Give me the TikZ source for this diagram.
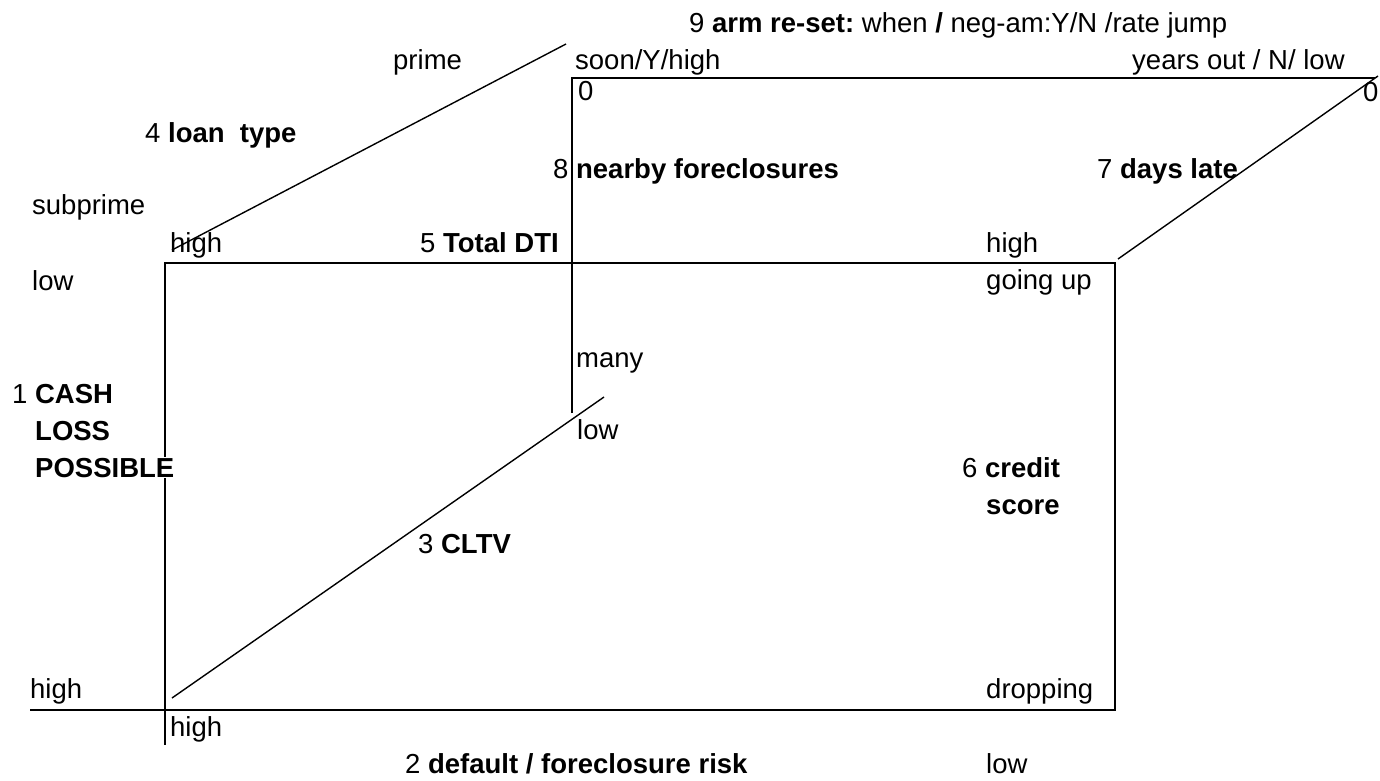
\documentclass[tikz,border=0pt]{standalone}
\usepackage{fontspec}
\setmainfont{Liberation Sans}
\usetikzlibrary{positioning}
\frenchspacing

\begin{document}
\begin{tikzpicture}[
  x=1pt, y=-1pt,
  axline/.style={line width=2.6pt},
  slant/.style={line width=1.4pt},
  lbl/.style={anchor=base west, inner sep=0pt, font=\fontsize{27.5}{33}\selectfont}
]
\useasboundingbox (0,0) rectangle (1380,780);

% ---- corners of the frame ----
\coordinate (axL) at (30,710);
\coordinate (axB) at (165,745);
\coordinate (TL) at (165,263);
\coordinate (TR) at (1115,263);
\coordinate (BR) at (1115,710);
\coordinate (dtiTop) at (572,78);
\coordinate (dtiBot) at (572,413);
\coordinate (backR) at (1375,78);
\coordinate (loanA) at (172,250);
\coordinate (loanB) at (566,44);
\coordinate (lateA) at (1118,259);
\coordinate (lateB) at (1378,76);
\coordinate (cltvA) at (172,698);
\coordinate (cltvB) at (604,397);

\draw[axline] (axL) -- (BR) -- (TR) -- (TL) -- (axB);
\draw[axline] (dtiBot) -- (dtiTop) -- (backR);
\draw[slant] (loanA) -- (loanB);
\draw[slant] (lateA) -- (lateB);
\draw[slant] (cltvA) -- (cltvB);

% ---- top row ----
\node[lbl] (arm) at (689,32) {9 \textbf{arm re-set:} when \textbf{/} neg-am:Y/N /rate jump};
\node[lbl] (prime) at (393,69) {prime};
\node[lbl] (soon) at (575,69) {soon/Y/high};
\node[lbl] (years) at (1132,69) {years out / N/ low};
\node[lbl] (zeroL) at (578,100) {0};
\node[lbl] (zeroR) at (1363,101) {0};

% ---- back labels ----
\node[lbl] (loan) at (145,142) {4 \textbf{loan\ \ type}};
\node[lbl] (near) at (553,178) {8 \textbf{nearby foreclosures}};
\node[lbl] (late) at (1097,178) {7 \textbf{days late}};
\node[lbl] (subprime) at (32,214) {subprime};
\node[lbl] (dtiHigh) at (170,252) {high};
\node[lbl] (dti) at (420,252) {5 \textbf{Total DTI}};
\node[lbl] (scoreHigh) at (986,252) {high};
\node[lbl] (loanLow) at (32,290) {low};
\node[lbl] (goingUp) at (986,289) {going up};
\node[lbl] (many) at (576,367) {many};

% ---- cash loss ----
\node[lbl] (cash) at (12,403) {1 \textbf{CASH}};
\node[lbl] (loss) at (35,440) {\textbf{LOSS}};
\node[lbl, fill=white, inner xsep=1pt, inner ysep=1pt] (possible) at (34,477) {\textbf{POSSIBLE}};
\node[lbl] (nearLow) at (577,439) {low};
\node[lbl] (credit) at (962,477) {6 \textbf{credit}};
\node[lbl] (score) at (986,514) {\textbf{score}};
\node[lbl] (cltv) at (418,553) {3 \textbf{CLTV}};

% ---- bottom row ----
\node[lbl] (cashHigh) at (30,698) {high};
\node[lbl] (dropping) at (986,698) {dropping};
\node[lbl] (cltvHigh) at (170,736) {high};
\node[lbl] (risk) at (405,773) {2 \textbf{default / foreclosure risk}};
\node[lbl] (riskLow) at (986,773) {low};
\end{tikzpicture}
\end{document}
